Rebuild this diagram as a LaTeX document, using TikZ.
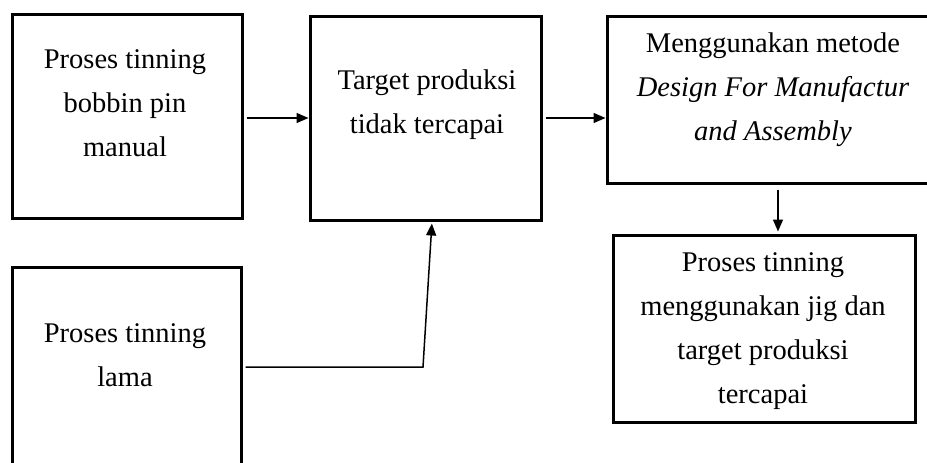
\documentclass[tikz,border=0pt]{standalone}
\usepackage{fontspec}
\setmainfont{Liberation Serif}
\usetikzlibrary{arrows.meta}

\tikzset{
    kotak/.style={draw, line width=3pt, rectangle, inner sep=0pt},
    teks/.style={align=center, font=\fontsize{28.5}{44}\selectfont, inner sep=0pt},
    panah/.style={line width=1.5pt, -{Triangle[length=12pt,width=10pt]}}
}

\begin{document}
\begin{tikzpicture}[x=1pt,y=-1pt]
        \useasboundingbox (0,0) rectangle (927,463);

        % kotak
        \node[kotak, minimum width=230pt, minimum height=204pt] (a) at (127,116) {};
        \node[kotak, minimum width=229pt, minimum height=203pt] (b) at (126.5,368.5) {};
        \node[kotak, minimum width=231pt, minimum height=204pt] (c) at (425.5,118) {};
        \node[kotak, minimum width=333pt, minimum height=167pt] (d) at (773.5,99.5) {};
        \node[kotak, minimum width=302pt, minimum height=187pt] (e) at (764,328.5) {};

        % teks
        \node[teks] (ta) at (125,103) {Proses tinning\\bobbin pin\\manual};
        \node[teks] (tb) at (125,355) {Proses tinning\\lama};
        \node[teks] (tc) at (427,105) {Target produksi\\tidak tercapai};
        \node[teks] (td) at (773,90) {Menggunakan metode\\\textit{Design For Manufactur}\\\textit{and Assembly}};
        \node[teks] (te) at (763,331) {Proses tinning\\menggunakan jig dan\\target produksi\\tercapai};

        % panah
        \coordinate (belok) at (423,367);
        \draw[panah, shorten <=3pt] (a.east |- c.west) -- (c.west);
        \draw[panah, shorten <=3pt] (c.east) -- (c.east -| d.west);
        \draw[panah, shorten <=5pt, shorten >=2pt] ([xshift=4.5pt]d.south) -- ([xshift=4.5pt]d.south |- e.north);
        \draw[panah, shorten >=2pt] ([xshift=3pt]b.east |- belok) -- (belok) -- ([xshift=6.5pt]c.south);
\end{tikzpicture}
\end{document}
